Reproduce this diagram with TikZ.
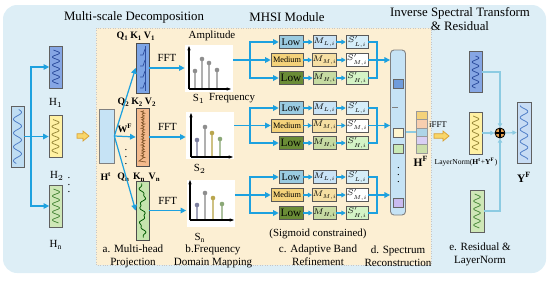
\RequirePackage{fix-cm}
\documentclass[tikz,border=0pt]{standalone}
\usepackage{fontspec}
\setmainfont{Liberation Serif}
\usetikzlibrary{arrows.meta,positioning,calc}

\definecolor{bgblue}{HTML}{DDEEF6}
\definecolor{bgsand}{HTML}{FCEFD3}
\definecolor{flow}{HTML}{1DA1DF}
\definecolor{pale}{HTML}{8CCBE2}
\definecolor{inblue}{HTML}{BFDDF2}
\definecolor{waveblue}{HTML}{4F7DC6}
\definecolor{wavenavy}{HTML}{2E4E9E}
\definecolor{waveyel}{HTML}{9A8A3A}
\definecolor{wavegrn}{HTML}{4C8A3C}
\definecolor{hblue}{HTML}{86A6E4}
\definecolor{hyellow}{HTML}{FFF1A3}
\definecolor{hgreen}{HTML}{CFE7B7}
\definecolor{qblue}{HTML}{7DA5E6}
\definecolor{korange}{HTML}{F3B98C}
\definecolor{vgreen}{HTML}{C6E4AE}
\definecolor{lowblue}{HTML}{9ACBE1}
\definecolor{medyel}{HTML}{F4D27A}
\definecolor{highgrn}{HTML}{6A8C36}
\definecolor{mlow}{HTML}{C9E3F6}
\definecolor{mmed}{HTML}{F6DFA3}
\definecolor{mhigh}{HTML}{C6DBA2}
\definecolor{slow}{HTML}{D6EEF9}
\definecolor{shigh}{HTML}{D4F3C6}
\definecolor{colblue}{HTML}{C6E3F5}
\definecolor{arryel}{HTML}{F8D66A}
\definecolor{arrorg}{HTML}{D9A030}
\definecolor{plusorg}{HTML}{E6A04C}
\definecolor{stemA}{HTML}{7B7E9E}
\definecolor{stemB}{HTML}{8E8E8E}
\definecolor{stemC}{HTML}{B9A64E}
\definecolor{stemD}{HTML}{8BA877}
\definecolor{sqblue}{HTML}{6F9CDB}
\definecolor{sqyel}{HTML}{FFF6CF}
\definecolor{sqgrn}{HTML}{C9E9B5}
\definecolor{sqpur}{HTML}{C9BBF0}
\definecolor{yfblue}{HTML}{C7DCF4}

\newcommand*{\px}{0.02cm}
% wave inside a box, top to bottom: x, y, half length, amplitude, degrees per px, colour
\newcommand*{\wavy}[6]{\draw[#6,line width=0.45pt] plot[domain=-#3:#3,samples=80,smooth] ({#1+#4*sin(\x*#5)},{#2+\x});}
% fat yellow arrow: x, y, length
\newcommand*{\fatarrow}[3]{\filldraw[fill=arryel,draw=arrorg,line width=0.4pt] (#1,#2-2.2) -- (#1+#3-6,#2-2.2) -- (#1+#3-6,#2-5) -- (#1+#3,#2) -- (#1+#3-6,#2+5) -- (#1+#3-6,#2+2.2) -- (#1,#2+2.2) -- cycle;}

\begin{document}
\begin{tikzpicture}
[
	x=\px, y=-\px,
	every node/.style={font=\fontsize{6.2}{7}\selectfont, text=black},
	title/.style={font=\fontsize{7.3}{8.4}\selectfont, align=center},
	stage/.style={font=\fontsize{6.3}{7.3}\selectfont, align=center},
	wbox/.style={draw=gray!75!black, line width=0.4pt, inner sep=0pt, minimum width=13*\px, minimum height=42*\px},
	qkv/.style={draw=gray!60!black, line width=0.4pt, inner sep=0pt, minimum width=13*\px},
	qlab/.style={font=\fontsize{5.6}{6.5}\selectfont\bfseries},
	plotbg/.style={fill=white, inner sep=0pt, minimum width=48*\px, minimum height=47*\px},
	band/.style={draw=gray!70!black, line width=0.35pt, inner sep=0pt, minimum height=13*\px, minimum width=24*\px},
	gate/.style={draw=gray!70!black, line width=0.35pt, inner sep=0pt, minimum height=13*\px, minimum width=23*\px, font=\fontsize{4.6}{5}\selectfont},
	flowline/.style={flow, line width=0.7pt},
	flowarr/.style={flow, line width=0.7pt, -{Triangle[length=3.2pt,width=3.2pt]}},
	smallarr/.style={flow, line width=0.7pt, -{Triangle[length=2.4pt,width=2.6pt]}},
	thinarr/.style={pale, line width=0.6pt, -{Triangle[length=2.4pt,width=2.4pt]}},
	stem/.style={line width=0.7pt}
]
	\useasboundingbox (0,0) rectangle (550,281);

	% backgrounds
	\fill[bgblue, rounded corners=8] (3,5) rectangle (546,273);
	\filldraw[fill=bgsand, draw=gray!45, densely dotted, line width=0.4pt] (96,28) rectangle (431,265);

	% titles
	\node[title] (tdec) at (134,17) {Multi-scale Decomposition};
	\node[title] (tmhsi) at (287,17) {MHSI Module};
	\node[title] (tinv) at (460,19) {Inverse Spectral Transform\\\& Residual};

	% input and sub-series
	\node[wbox, fill=inblue, minimum height=61*\px] (in) at (17.5,136.5) {};
	\wavy{17.5}{136.5}{27}{4}{26}{waveblue}
	\node[wbox, fill=hblue] (h1) at (56,67) {};
	\wavy{56}{67}{17}{3.5}{45}{wavenavy}
	\node[wbox, fill=hyellow] (h2) at (55.5,136.5) {};
	\wavy{55.5}{136.5}{17}{3.5}{45}{waveyel}
	\node[wbox, fill=hgreen] (hn) at (56,206) {};
	\wavy{56}{206}{17}{3.5}{45}{wavegrn}
	\node (lh1) at (56,103) {H$_1$};
	\node (lh2) at (57,176) {H$_2$};
	\node (lhn) at (56,245) {H$_\mathrm{n}$};
	\node (hdots) at (69,180) {$\vdots$};

	\coordinate (br) at (31,136.5);
	\draw[flowline] (in.east) -- (br);
	\draw[flowarr] (br) |- (h1.west);
	\draw[flowarr] (br) -- (h2.west);
	\draw[flowarr] (br) |- (hn.west);

	\fatarrow{77}{136}{12}

	% a. multi-head projection
	\node[wbox, fill=colblue, draw=gray, minimum width=15*\px, minimum height=54*\px] (ht) at (106.5,136) {};
	\node[qlab] (lht) at (106,177) {H$^\mathbf{t}$};
	\node[qkv, fill=qblue, minimum height=50*\px] (q1) at (142.5,68) {};
	\node[qkv, fill=korange, minimum height=58*\px] (q2) at (142.5,137) {};
	\node[qkv, fill=vgreen, minimum height=59*\px] (q3) at (142.5,210.5) {};
	\node[qlab] (ql1) at (136,36) {Q$_\mathbf{1}$\,K$_\mathbf{1}$\,V$_\mathbf{1}$};
	\node[qlab] (ql2) at (137,102) {Q$_\mathbf{2}$\,K$_\mathbf{2}$\,V$_\mathbf{2}$};
	\node[qlab] (ql3) at (139,177) {Q$_\mathbf{n}$\,\,K$_\mathbf{n}$\,\,V$_\mathbf{n}$};
	\node[qlab] (wf) at (125,128) {W$^\mathbf{F}$};
	\node (qdots) at (126,152) {$\vdots$};

	% traces in the heads
	\draw[wavenavy, line width=0.45pt] (145,46) -- (145,91);
	\foreach \hy in {52,63,74,85}
		\draw[wavenavy, line width=0.4pt] (140,\hy+3) -- (143,\hy+3) -- (145,\hy-3);
	\draw[brown!70!black, line width=0.4pt] plot[domain=-24:24, samples=90] ({143+1.1*sin(\x*130)+0.7*sin(\x*301)}, {134.5+\x}) -- (139,161) -- (146,162);
	\draw[green!35!black, line width=0.45pt] plot[domain=-27:27, samples=70, smooth] ({142.5+2.6*sin(\x*20)+1*sin(\x*55)}, {210.5+\x});

	\draw[flowarr] (ht.east) -- (q1.west);
	\draw[flowarr] (ht.east) -- (q2.west);
	\draw[flowarr] (ht.east) -- (q3.west);

	% b. frequency domain mapping
	\node[plotbg] (p1) at (209,68) {};
	\node[plotbg] (p2) at (210,135.5) {};
	\node[plotbg] (p3) at (210.5,203) {};
	\draw[line width=0.6pt, -{Stealth[length=2.5pt]}] (189,89) -- (189,46);
	\draw[line width=0.6pt, -{Stealth[length=2.5pt]}] (189,89) -- (231,89);
	\draw[line width=0.6pt, -{Stealth[length=2.5pt]}] (191,157) -- (191,113);
	\draw[line width=0.6pt, -{Stealth[length=2.5pt]}] (191,157) -- (233,157);
	\draw[line width=0.6pt, -{Stealth[length=2.5pt]}] (190,220) -- (190,180);
	\draw[line width=0.6pt, -{Stealth[length=2.5pt]}] (190,220) -- (234,220);
	\foreach \sx/\sy/\sc in {195/71/stemB, 202/59/stemB, 209/63/stemB, 217/70/stemB}
	{
		\draw[stem, \sc!70] (\sx,88) -- (\sx,\sy);
		\fill[\sc] (\sx,\sy) circle (1.3pt);
	}
	\foreach \sx/\sy/\sc in {197/140/stemA, 205/127/stemB, 212/133/stemC, 220/139/stemD}
	{
		\draw[stem, \sc!70] (\sx,156) -- (\sx,\sy);
		\fill[\sc] (\sx,\sy) circle (1.3pt);
	}
	\foreach \sx/\sy/\sc in {197/205/stemA, 205/193/stemB, 213/198/stemC, 222/204/stemD}
	{
		\draw[stem, \sc!70] (\sx,219) -- (\sx,\sy);
		\fill[\sc] (\sx,\sy) circle (1.3pt);
	}
	\node (amp) at (212,36) {Amplitude};
	\node (s1) at (199,99) {S$_1$};
	\node (freq) at (232,98) {Frequency};
	\node (s2) at (200,169) {S$_2$};
	\node (sn) at (200,238) {S$_\mathrm{n}$};

	\draw[flowarr] (q1.east) -- (q1.east -| p1.west) node[midway, above=0pt] (fft1) {FFT};
	\draw[flowarr] (q2.east) -- (q2.east -| p2.west) node[midway, above=0pt] (fft2) {FFT};
	\draw[flowarr] (q3.east) -- (q3.east -| p3.west) node[midway, above=0pt] (fft3) {FFT};

	% c. adaptive band refinement
	\node[draw=gray, fill=colblue, rounded corners=2pt, line width=0.5pt, inner sep=0pt, minimum width=15*\px, minimum height=165*\px] (col) at (398,132.5) {};
	\foreach \b/\yl/\ym/\yh in {1/42/60/78, 2/108/125.5/143, 3/177/195/213}
	{
		\node[band, fill=lowblue, font=\fontsize{5.8}{6}\selectfont] (lo\b) at (291,\yl) {Low};
		\node[band, fill=medyel, minimum width=32*\px, font=\fontsize{4.7}{5}\selectfont] (md\b) at (287,\ym) {Medium};
		\node[band, fill=highgrn, font=\fontsize{6.4}{7}\selectfont] (hi\b) at (291,\yh) {Low};
		\node[gate, fill=mlow] (ml\b) at (324.5,\yl) {$M_{L,i}$};
		\node[gate, fill=mmed] (mm\b) at (324.5,\ym) {$M_{M,i}$};
		\node[gate, fill=mhigh] (mh\b) at (324.5,\yh) {$M_{H,i}$};
		\node[gate, fill=slow, minimum width=22*\px] (sl\b) at (357,\yl) {$S'_{L,i}$};
		\node[gate, fill=white, minimum width=22*\px] (sm\b) at (357,\ym) {$S'_{M,i}$};
		\node[gate, fill=shigh, minimum width=22*\px] (sh\b) at (357,\yh) {$S'_{H,i}$};
		% split
		\coordinate (sp\b) at (250,\ym);
		\draw[flowarr] (p\b.east |- md\b.west) -- (md\b.west);
		\draw[flowarr] (sp\b) |- (lo\b.west);
		\draw[flowarr] (sp\b) |- (hi\b.west);
		\draw[smallarr] (lo\b) -- (ml\b);
		\draw[smallarr] (md\b) -- (mm\b);
		\draw[smallarr] (hi\b) -- (mh\b);
		\draw[smallarr] (ml\b) -- (sl\b);
		\draw[smallarr] (mm\b) -- (sm\b);
		\draw[smallarr] (mh\b) -- (sh\b);
		% merge
		\coordinate (mg\b) at (377,\ym);
		\draw[flowline] (sl\b.east) -| (mg\b);
		\draw[flowline] (sh\b.east) -| (mg\b);
		\draw[flowarr] (sm\b.east) -- (sm\b.east -| col.west);
	}
	\node (sig) at (318,234) {(Sigmoid constrained)};

	% d. spectrum reconstruction
	\foreach \sy/\sc in {84/sqblue, 133/sqyel, 149/sqgrn, 203/sqpur}
		\filldraw[fill=\sc, draw=gray!80!black, line width=0.3pt] (393.5,\sy-4.5) rectangle (403,\sy+4.5);
	\draw[gray, line width=0.4pt] (392,107) -- (398,107);
	\node (cdots) at (398.5,170) {$\vdots$};

	\node[inner sep=0pt, minimum width=11*\px, minimum height=42*\px] (hf) at (421.5,132) {};
	\foreach \i/\c in {0/medyel, 1/korange!70, 2/lowblue!80, 3/sqpur!70, 4/mhigh!90}
		\filldraw[fill=\c, draw=gray!80, line width=0.3pt] (416,111+\i*8.4) rectangle (427,119.4+\i*8.4);
	\draw[pale, line width=0.7pt] (col.east |- hf.west) -- (hf.west);
	\node[qlab, font=\fontsize{6.5}{7}\selectfont\bfseries] (lhf) at (421,161) {H$^\mathbf{F}$};
	\node[font=\fontsize{5}{6}\selectfont] (ifft) at (438,125) {iFFT};
	\fatarrow{434}{136}{15}
	\node[font=\fontsize{4.3}{5}\selectfont] (lnorm) at (466,162) {LayerNorm(\textbf{H}$^\mathbf{t}$+\textbf{Y}$^\mathbf{F}$)};

	% e. residual and layernorm
	\node[wbox, fill=hblue, minimum height=41*\px] (rb1) at (475.5,72) {};
	\wavy{475.5}{72}{16}{3.3}{45}{wavenavy}
	\node[wbox, fill=hyellow] (rb2) at (475.5,133) {};
	\wavy{475.5}{133}{17}{3.3}{45}{waveyel}
	\node[wbox, fill=hgreen, minimum width=14*\px] (rb3) at (477,211) {};
	\wavy{477}{211}{17}{3.3}{45}{wavegrn}
	\node[circle, draw, fill=plusorg, line width=0.5pt, inner sep=0pt, minimum size=10*\px,
		path picture={\draw[line width=0.7pt] (path picture bounding box.north) -- (path picture bounding box.south) (path picture bounding box.west) -- (path picture bounding box.east);}] (plus) at (500,133) {};
	\node[wbox, fill=yfblue, minimum width=14*\px, minimum height=61*\px] (yf) at (524,132.5) {};
	\wavy{524}{132.5}{27}{3.8}{30}{waveblue}
	\node[qlab, font=\fontsize{6.5}{7}\selectfont\bfseries] (lyf) at (524,177) {Y$^\mathbf{F}$};

	\draw[thinarr] (rb1.east) -| (plus.north);
	\draw[thinarr] (rb2.east) -- (plus.west);
	\draw[thinarr] (rb3.east) -| (plus.south);
	\draw[thinarr] (plus.east) -- (yf.west);

	% stage labels
	\node[stage] (sa) at (133,256) {a. Multi-head\\Projection};
	\node[stage] (sb) at (213,256) {b.Frequency\\Domain Mapping};
	\node[stage] (sc) at (318,255) {c. Adaptive Band\\Refinement};
	\node[stage] (sd) at (398,256) {d. Spectrum\\Reconstruction};
	\node[stage] (se) at (480,254) {e. Residual \&\\LayerNorm};

\end{tikzpicture}
\end{document}
